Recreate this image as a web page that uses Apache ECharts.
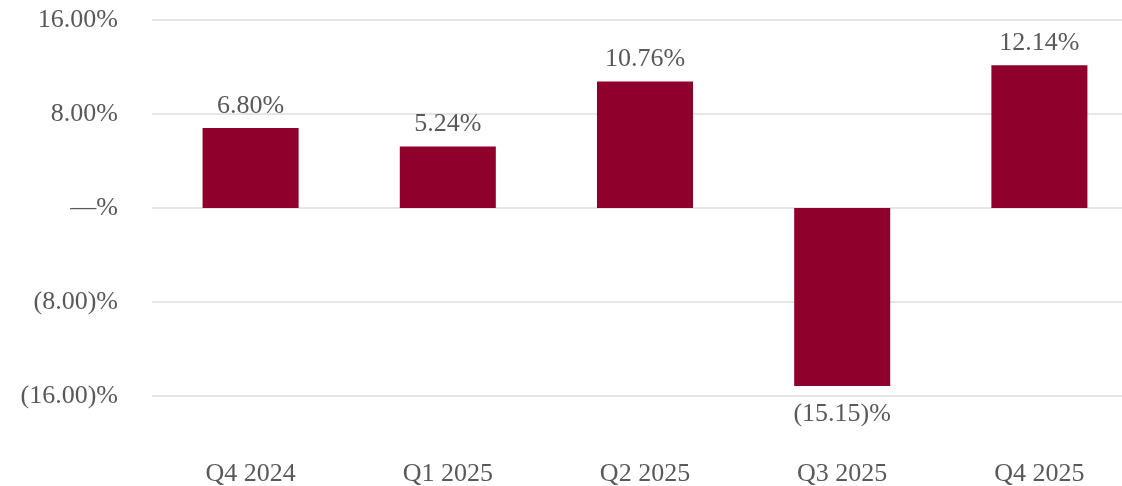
<!DOCTYPE html>
<html>
<head>
<meta charset="utf-8">
<script src="https://cdn.jsdelivr.net/npm/echarts@6/dist/echarts.min.js"></script>
<style>
  html, body { margin: 0; padding: 0; background: #fff; }
  #chart { width: 1122px; height: 486px; }
</style>
</head>
<body>
<div id="chart"></div>
<script>
// данные графика
const quarters = ["Q4 2024", "Q1 2025", "Q2 2025", "Q3 2025", "Q4 2025"];
const changes = [6.80, 5.24, 10.76, -15.15, 12.14];
const yTicks = [-16, -8, 0, 8, 16];

const textColor = "#595959";
const fontFamily = "'Liberation Serif', 'Times New Roman', serif";

// формат процентов: отрицательные в скобках, ноль как тире
const fmtPct = (v) => {
    if (v === 0) return "\u2014%";
    if (v < 0) return "(" + Math.abs(v).toFixed(2) + ")%";
    return v.toFixed(2) + "%";
};

const chart = echarts.init(document.getElementById("chart"), null, { renderer: "canvas" });

const option = {
    animation: false,
    grid: {
        left: 152, width: 986, top: 20, height: 376,
        containLabel: false,
        outerBoundsMode: "none" // сетка выходит за правый край, как в оригинале
    },
    xAxis: {
        type: "category",
        data: quarters,
        axisLine: { show: false, onZero: false },
        axisTick: { show: false },
        axisLabel: { color: textColor, fontSize: 26, fontFamily: fontFamily, margin: 65 }
    },
    yAxis: {
        type: "value",
        min: yTicks[0],
        max: yTicks[yTicks.length - 1],
        interval: 8,
        axisLine: { show: false },
        axisTick: { show: false },
        splitLine: { lineStyle: { color: "#dedede", width: 1.5 } },
        axisLabel: {
            color: textColor, fontSize: 26, fontFamily: fontFamily, margin: 34,
            formatter: (v) => fmtPct(v)
        }
    },
    series: [{
        type: "bar",
        barWidth: "48.7%",
        itemStyle: { color: "#90002C" },
        data: changes.map((v) => ({
            value: v,
            label: { position: v < 0 ? "bottom" : "top", distance: v < 0 ? 15 : 9 }
        })),
        label: {
            show: true,
            color: textColor,
            fontSize: 26,
            fontFamily: fontFamily,
            formatter: (p) => fmtPct(p.value)
        }
    }]
};

chart.setOption(option);
</script>
</body>
</html>
